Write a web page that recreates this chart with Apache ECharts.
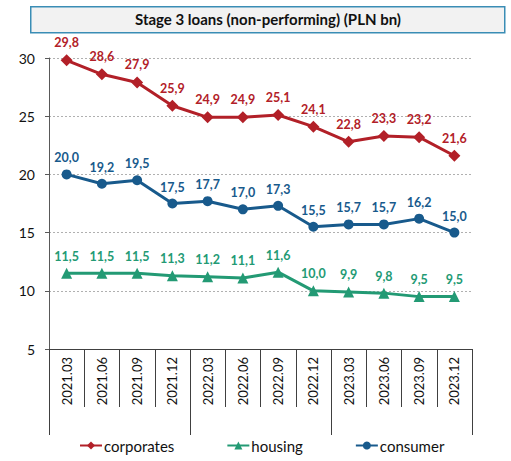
<!DOCTYPE html>
<html>
<head>
<meta charset="utf-8">
<script src="https://cdn.jsdelivr.net/npm/echarts@6/dist/echarts.min.js"></script>
<style>
  html, body { margin: 0; padding: 0; background: #fff; }
  #chart { width: 511px; height: 461px; }
</style>
</head>
<body>
<div id="chart"></div>
<script>
// Stage 3 loans — ECharts
const quarters = ["2021.03", "2021.06", "2021.09", "2021.12", "2022.03", "2022.06",
  "2022.09", "2022.12", "2023.03", "2023.06", "2023.09", "2023.12"];
const years = ["2021", "2022", "2023"];
const corporates = [29.8, 28.6, 27.9, 25.9, 24.9, 24.9, 25.1, 24.1, 22.8, 23.3, 23.2, 21.6];
const housing = [11.5, 11.5, 11.5, 11.3, 11.2, 11.1, 11.6, 10.0, 9.9, 9.8, 9.5, 9.5];
const consumer = [20.0, 19.2, 19.5, 17.5, 17.7, 17.0, 17.3, 15.5, 15.7, 15.7, 16.2, 15.0];
const yTicks = [5, 10, 15, 20, 25, 30];

const font = "Lato, 'Open Sans', sans-serif";
const fmt = (p) => p.value.toFixed(1).replace(".", ",");

function line(name, data, color, symbol, size) {
  return {
    name, type: "line", data,
    symbol, symbolSize: size,
    lineStyle: { color, width: 3 },
    itemStyle: { color },
    label: {
      show: true, position: "top", distance: 5, formatter: fmt,
      color, fontWeight: "bold", fontSize: 12.5, fontFamily: font,
    },
    z: 3,
  };
}

const chart = echarts.init(document.getElementById("chart"), null, { renderer: "svg" });
chart.setOption({
  animation: false,
  backgroundColor: "#fff",
  graphic: [
    {
      type: "rect", left: 30, top: 6,
      shape: { width: 474, height: 26 },
      style: { fill: "#f2f2f2", stroke: "#3a8db5", lineWidth: 1.5 },
    },
    {
      type: "text",
      style: { text: "Stage 3 loans (non-performing) (PLN bn)", fill: "#111",
        font: "bold 15px " + font, x: 268, y: 19, align: "center", verticalAlign: "middle" },
    },
  ],
  grid: { left: 49, right: 39, top: 58, bottom: 112 },
  legend: {
    bottom: 3, left: 74, itemGap: 52, itemWidth: 22, itemHeight: 10,
    textStyle: { fontSize: 15, color: "#111", fontFamily: font, padding: [0, 0, 0, -3] },
    data: ["corporates", "housing", "consumer"],
  },
  xAxis: [
    {
      type: "category", data: quarters, boundaryGap: true,
      axisLine: { lineStyle: { color: "#404040", width: 1 } },
      axisTick: { show: true, interval: 0, length: 58, lineStyle: { color: "#404040" } },
      axisLabel: { interval: 0, rotate: 90, margin: 8, fontSize: 13, color: "#111", fontFamily: font },
    },
    {
      type: "category", data: years, position: "bottom", boundaryGap: true,
      axisLine: { show: false },
      axisTick: { show: true, interval: 0, length: 86, lineStyle: { color: "#404040" } },
      axisLabel: { show: false },
    },
  ],
  yAxis: {
    type: "value", min: 5, max: 30, interval: 5,
    axisLine: { show: true, lineStyle: { color: "#595959" } },
    axisTick: { show: true, length: 4, lineStyle: { color: "#595959" } },
    axisLabel: { margin: 14, fontSize: 14, color: "#111", fontFamily: font,
      formatter: (v) => (yTicks.includes(v) ? String(v) : "") },
    splitLine: { show: true, lineStyle: { color: "#b0b0b0", type: [2, 2], width: 1 } },
  },
  series: [
    line("corporates", corporates, "#b22028", "diamond", 12),
    line("housing", housing, "#239a74", "triangle", 11),
    line("consumer", consumer, "#185a8c", "circle", 10),
  ],
});
</script>
</body>
</html>
